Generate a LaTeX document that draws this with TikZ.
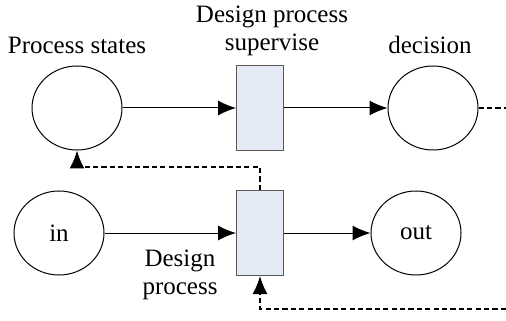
\documentclass[tikz,border=0pt]{standalone}
\usepackage{fontspec}
\setmainfont{Liberation Serif}
\usepackage{xcolor}
\usetikzlibrary{calc, shapes.geometric, arrows.meta}
\definecolor{boxfill}{RGB}{228,235,246}

\begin{document}
\begin{tikzpicture}[>={Latex[length=9pt,width=7.5pt]}, line width=0.5pt,
		font=\fontsize{12.5}{14}\selectfont,
		place/.style={draw, ellipse, minimum width=45pt, minimum height=42pt, inner sep=0pt},
		trans/.style={draw=black!65, fill=boxfill, minimum width=23.5pt, minimum height=42.5pt, inner sep=0pt},
		feedback/.style={dash pattern=on 2.6pt off 1.6pt, line width=0.8pt}]
		\useasboundingbox (-38.5pt,-106pt) rectangle (214.5pt,54pt);
		\node[place] (states) at (0, 0) {};
		\node[trans, node distance=91.5pt, right of=states] (superv) {};
		\node[place, node distance=86.5pt, right of=superv] (decision) {};
		\node[trans, node distance=62.5pt, below of=superv] (design) {};
		\node[place, node distance=100.5pt, left of=design] (in) {in};
		\node[place, node distance=78pt, right of=design] (out) {out};

		\node[node distance=31.5pt, above of=states] (statesl) {Process states};
		\node[node distance=38.5pt, above of=superv, xshift=6pt, align=center] (supervl) {Design process\\supervise};
		\node[node distance=31.5pt, above of=decision, xshift=-1.5pt] (decisionl) {decision};
		\node[node distance=40pt, left of=design, yshift=-21pt, align=center] (designl) {Design\\process};

		\coordinate (cont) at ($(decision)+(36.5pt,0)$);
		\coordinate (back) at ($(design)+(123pt,-38pt)$);

		\draw[->] (states) -- (superv);
		\draw[->] (superv) -- (decision);
		\draw[->] (in) -- (design);
		\draw[->] (design) -- (out);
		\draw[feedback] (decision) -- (cont);
		\draw[feedback, ->] (design.north) -- ++(0,11.5pt) -| (states.south);
		\draw[feedback, ->] (back) -| (design.south);
	\end{tikzpicture}
\end{document}
